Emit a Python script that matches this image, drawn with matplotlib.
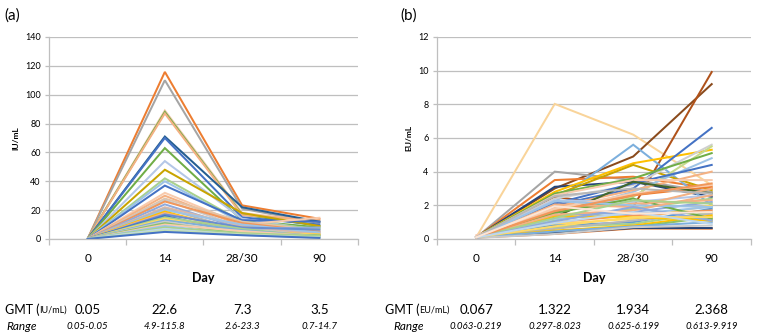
import matplotlib.pyplot as plt
import matplotlib.transforms as mtransforms
from matplotlib.ticker import FixedLocator

plt.rcParams['font.family'] = ['Lato', 'DejaVu Sans']

days = ['0', '14', '28/30', '90']

# anti-PA IgG, IU/mL, one entry per subject
iu_d0 = [0.05] * 37
iu_d14 = [115.8, 110.0, 89.0, 88.0, 87.0, 71.0, 70.0, 63.0, 54.0, 48.0,
          42.0, 40.0, 37.0, 32.0, 30.0, 28.0, 27.0, 26.0, 24.0, 22.0,
          21.0, 20.0, 19.0, 18.0, 17.0, 16.0, 15.0, 14.0, 13.0, 12.0,
          11.0, 10.0, 9.0, 8.0, 7.0, 6.0, 4.9]
iu_d28 = [23.3, 21.0, 18.0, 17.0, 16.5, 22.0, 15.0, 13.0, 14.0, 18.0,
          12.0, 11.0, 13.0, 10.0, 9.0, 12.0, 8.0, 11.0, 7.0, 9.0,
          6.0, 10.0, 5.0, 6.0, 8.0, 4.0, 7.0, 5.0, 6.0, 4.0,
          3.5, 5.5, 3.0, 4.0, 2.8, 3.2, 2.6]
iu_d90 = [14.0, 11.0, 12.0, 9.0, 13.0, 12.0, 10.0, 8.0, 6.0, 9.0,
          7.0, 5.0, 12.0, 14.7, 4.0, 6.0, 3.0, 5.0, 8.0, 3.5,
          2.0, 4.5, 3.0, 2.5, 6.5, 2.0, 1.5, 3.0, 2.0, 1.0,
          2.5, 1.8, 1.2, 2.2, 0.9, 1.0, 0.7]

# toxin neutralisation, EU/mL
eu_d0 = [0.10, 0.12, 0.10, 0.08, 0.09, 0.11, 0.10, 0.13, 0.07, 0.09,
         0.10, 0.08, 0.12, 0.10, 0.09, 0.08, 0.10, 0.11, 0.07, 0.09,
         0.10, 0.12, 0.08, 0.10, 0.09, 0.11, 0.08, 0.07, 0.10, 0.09,
         0.12, 0.08, 0.10, 0.09, 0.11, 0.10, 0.08, 0.219, 0.063, 0.10,
         0.09, 0.11, 0.07, 0.10, 0.12, 0.08, 0.09, 0.10]
eu_d14 = [8.023, 3.0, 2.5, 4.0, 3.5, 3.1, 2.2, 2.8, 2.6, 2.0,
          2.4, 1.8, 2.7, 1.5, 2.1, 1.9, 2.6, 1.6, 1.3, 2.3,
          1.1, 1.7, 1.4, 0.9, 1.2, 0.8, 1.0, 0.7, 0.6, 0.5,
          0.4, 0.3, 0.35, 0.45, 1.35, 1.55, 2.05, 1.8, 0.297, 2.25,
          1.45, 1.25, 1.05, 0.75, 2.55, 1.65, 0.95, 1.95]
eu_d28 = [6.199, 4.9, 1.9, 3.5, 3.7, 3.4, 5.6, 4.5, 4.4, 3.0,
          3.2, 2.5, 3.6, 2.8, 3.3, 2.9, 3.5, 2.6, 3.4, 2.2,
          1.8, 2.1, 1.6, 1.2, 1.5, 1.0, 1.4, 0.9, 1.1, 0.8,
          0.7, 0.625, 0.65, 0.75, 1.3, 2.4, 1.9, 2.7, 0.7, 2.0,
          1.7, 2.3, 1.9, 1.3, 3.0, 2.6, 1.6, 1.5]
eu_d90 = [3.2, 9.2, 9.919, 2.8, 3.0, 2.5, 2.0, 5.3, 2.9, 6.6,
          5.6, 5.5, 5.1, 4.8, 4.4, 4.0, 3.5, 3.1, 2.7, 2.6,
          2.4, 2.3, 2.2, 2.0, 1.9, 1.8, 1.7, 1.6, 1.5, 1.4,
          1.3, 0.613, 0.65, 1.0, 1.1, 1.2, 3.0, 3.2, 0.8, 1.9,
          2.6, 2.1, 1.1, 1.3, 2.7, 3.3, 0.9, 1.6]

gmt_iu = ['0.05', '22.6', '7.3', '3.5']
range_iu = ['0.05-0.05', '4.9-115.8', '2.6-23.3', '0.7-14.7']
gmt_eu = ['0.067', '1.322', '1.934', '2.368']
range_eu = ['0.063-0.219', '0.297-8.023', '0.625-6.199', '0.613-9.919']

# office-style series colours
iu_colors = ['#ED7D31', '#A5A5A5', '#F4C7A8', '#70AD47', '#F4B183', '#255E91',
             '#4472C4', '#70AD47', '#B4C7E7', '#C9A400', '#A9D18E', '#9DC3E6',
             '#4472C4', '#F8CBAD', '#F4B183', '#E2C4A8', '#C9C9C9', '#F1975A',
             '#8FAADC', '#D9B8A8', '#B7B7B7', '#9DC3E6', '#FFC000', '#F4B183',
             '#698ED0', '#4472C4', '#A9D18E', '#FFD966', '#7CAFDD', '#C9C9C9',
             '#8CC168', '#F8CBAD', '#9DC3E6', '#A9D18E', '#BDD7EE', '#C5E0B4',
             '#4472C4']
eu_colors = ['#F9D49A', '#8A4A1C', '#B0521A', '#A5A5A5', '#ED7D31', '#264478',
             '#7CAFDD', '#FFC000', '#C9A400', '#4472C4', '#D0D0D0', '#C5D98E',
             '#70AD47', '#9DC3E6', '#4472C4', '#F4B183', '#F8CBAD', '#ED7D31',
             '#43682B', '#B4C7E7', '#A9D18E', '#F4B183', '#8FAADC', '#FFD966',
             '#9DC3E6', '#5B9BD5', '#F1975A', '#A9D18E', '#B7B7B7', '#FFC000',
             '#8CC168', '#ED7D31', '#264478', '#7CAFDD', '#FFC000', '#70AD47',
             '#F4B183', '#F8CBAD', '#C9C9C9', '#9DC3E6', '#F4B183', '#A9D18E',
             '#8FAADC', '#FFD966', '#B7B7B7', '#F1975A', '#BDD7EE', '#FBE5D6']

fig = plt.figure(figsize=(7.58, 3.35), dpi=100)
ax1 = fig.add_axes([0.0646, 0.2866, 0.4077, 0.603])
ax2 = fig.add_axes([0.5765, 0.2866, 0.4142, 0.603])

x = range(len(days))


def style_panel(ax, ymax, step, ylabel):
    ax.set_xlim(-0.5, len(days) - 0.5)
    ax.set_ylim(0, ymax)
    ax.set_yticks([v for v in range(0, ymax + 1, step)])
    ax.grid(axis='y', color='#BFBFBF', lw=0.9)
    ax.set_axisbelow(True)
    for s in ['top', 'right']:
        ax.spines[s].set_visible(False)
    for s in ['left', 'bottom']:
        ax.spines[s].set_color('#BFBFBF')
        ax.spines[s].set_linewidth(0.9)
    ax.set_xticks(list(x))
    ax.set_xticklabels(days, fontsize=8.5)
    ax.xaxis.set_minor_locator(FixedLocator([i - 0.5 for i in range(len(days) + 1)]))
    ax.tick_params(axis='x', which='major', length=0, pad=10)
    ax.tick_params(axis='x', which='minor', length=4, color='#BFBFBF', width=0.9)
    ax.tick_params(axis='y', length=3, color='#BFBFBF', width=0.9,
                   labelsize=6.5, pad=3)
    ax.set_ylabel(ylabel, fontsize=6, fontweight='bold', labelpad=4)
    ax.set_xlabel('Day', fontsize=9, fontweight='bold', labelpad=6)


for i in range(len(iu_d14)):
    ax1.plot(x, [iu_d0[i], iu_d14[i], iu_d28[i], iu_d90[i]],
             color=iu_colors[i], lw=1.45, solid_joinstyle='miter')
for i in range(len(eu_d14)):
    ax2.plot(x, [eu_d0[i], eu_d14[i], eu_d28[i], eu_d90[i]],
             color=eu_colors[i], lw=1.45, solid_joinstyle='miter')

style_panel(ax1, 140, 20, 'IU/mL')
style_panel(ax2, 12, 2, 'EU/mL')

fig.text(0.006, 0.955, '(a)', fontsize=11, va='center')
fig.text(0.528, 0.955, '(b)', fontsize=11, va='center')

# GMT and range rows under each panel
for ax, unit, gmt, rng, lab_x in [(ax1, 'IU/mL', gmt_iu, range_iu, 0.006),
                                  (ax2, 'EU/mL', gmt_eu, range_eu, 0.508)]:
    tr = mtransforms.blended_transform_factory(ax.transData, fig.transFigure)
    t = fig.text(lab_x, 0.075, 'GMT (', fontsize=9, va='center')
    fig.canvas.draw()
    bb = t.get_window_extent()
    fig.text(bb.x1 / fig.bbox.width, 0.075, unit + ')', fontsize=6.5, va='center')
    fig.text(lab_x + (0.003 if ax is ax1 else 0.011), 0.024, 'Range',
             fontsize=8.5, style='italic', va='center')
    for i in x:
        ax.text(i, 0.075, gmt[i], transform=tr, fontsize=9.5,
                ha='center', va='center')
        ax.text(i, 0.024, rng[i], transform=tr, fontsize=7, style='italic',
                ha='center', va='center')

fig.savefig('out.png', dpi=100)
